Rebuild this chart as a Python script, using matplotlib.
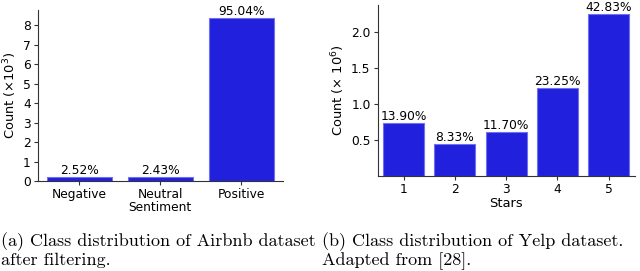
import matplotlib
matplotlib.use("Agg")
import matplotlib.pyplot as plt

# Data
airbnb_classes = ["Negative", "Neutral", "Positive"]
airbnb_counts = [0.222, 0.214, 8.37]          # x10^3
airbnb_pcts = ["2.52%", "2.43%", "95.04%"]

yelp_stars = [1, 2, 3, 4, 5]
yelp_counts = [0.731, 0.440, 0.611, 1.224, 2.245]  # x10^6
yelp_pcts = ["13.90%", "8.33%", "11.70%", "23.25%", "42.83%"]

caption_a = ["(a) Class distribution of Airbnb dataset", "after filtering."]
caption_b = ["(b) Class distribution of Yelp dataset.", "Adapted from [28]."]

bar_color = "#2020dd"
edge_color = "#7070f0"
fs = 8.8
lfs = 9.4

fig = plt.figure(figsize=(6.4, 2.71), dpi=100)

# Left chart
ax1 = fig.add_axes([0.059, 0.331, 0.383, 0.632])
x1 = range(len(airbnb_classes))
b1 = ax1.bar(x1, airbnb_counts, width=0.8, color=bar_color, edgecolor=edge_color, linewidth=0.8)
for rect, p in zip(b1, airbnb_pcts):
    ax1.text(rect.get_x() + rect.get_width() / 2, rect.get_height(), p,
             ha="center", va="bottom", fontsize=fs)
ax1.set_xticks(list(x1))
ax1.set_xticklabels(airbnb_classes, fontsize=fs)
ax1.set_yticks(range(0, 9))
ax1.tick_params(axis="y", labelsize=fs, length=3, pad=2)
ax1.tick_params(axis="x", length=3, pad=2)
ax1.set_xlim(-0.51, 2.51)
ax1.set_ylim(0, 8.79)
ax1.set_ylabel(r"Count ($\times10^3$)", fontsize=lfs, labelpad=3)
ax1.set_xlabel("Sentiment", fontsize=fs, labelpad=0)

# Right chart
ax2 = fig.add_axes([0.590, 0.351, 0.402, 0.631])
b2 = ax2.bar(yelp_stars, yelp_counts, width=0.8, color=bar_color, edgecolor=edge_color, linewidth=0.8)
for rect, p in zip(b2, yelp_pcts):
    ax2.text(rect.get_x() + rect.get_width() / 2, rect.get_height(), p,
             ha="center", va="bottom", fontsize=fs)
ax2.set_xticks(yelp_stars)
ax2.set_yticks([0.5, 1.0, 1.5, 2.0])
ax2.tick_params(axis="both", labelsize=fs, length=3, pad=2)
ax2.set_xlim(0.49, 5.51)
ax2.set_ylim(0, 2.37)
ax2.set_ylabel(r"Count ($\times$ $10^6$)", fontsize=lfs, labelpad=3)
ax2.set_xlabel("Stars", fontsize=lfs, labelpad=1)

for ax in (ax1, ax2):
    ax.spines["top"].set_visible(False)
    ax.spines["right"].set_visible(False)
    for s in ("left", "bottom"):
        ax.spines[s].set_color("#333333")
    ax.tick_params(colors="#333333", labelcolor="black")

# Captions: fit font size so first line of (a) spans ~316 px
renderer = fig.canvas.get_renderer()
probe = fig.text(0, 0, caption_a[0], fontsize=10, family="cmr10")
w = probe.get_window_extent(renderer).width
probe.remove()
cfs = 10 * 315 / w

fig.text(1 / 640, 1 - 246.5 / 271, caption_a[0], fontsize=cfs, family="cmr10", va="baseline")
fig.text(1 / 640, 1 - 265.5 / 271, caption_a[1], fontsize=cfs, family="cmr10", va="baseline")
fig.text(322 / 640, 1 - 246.5 / 271, caption_b[0], fontsize=cfs, family="cmr10", va="baseline")
fig.text(322 / 640, 1 - 265.5 / 271, caption_b[1], fontsize=cfs, family="cmr10", va="baseline")

fig.savefig("out.png", dpi=100)
